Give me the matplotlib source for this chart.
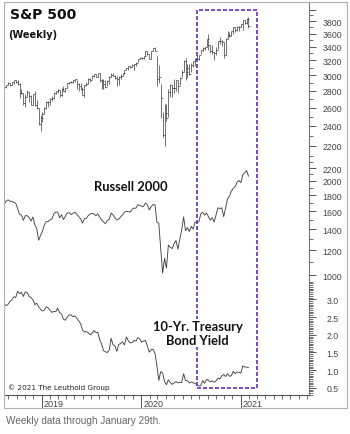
import numpy as np
import pandas as pd
import matplotlib
matplotlib.use('Agg')
import matplotlib.pyplot as plt
import matplotlib.dates as mdates
import matplotlib.transforms as mtransforms
from matplotlib.patches import Rectangle
from matplotlib.ticker import NullFormatter
from datetime import datetime

plt.rcParams['font.family'] = 'DejaVu Sans'

# weekly Friday closes, Aug 17 2018 -> Jan 29 2021
weeks = pd.date_range('2018-08-17', '2021-01-29', freq='W-FRI')

sp_close = [2850.1, 2874.7, 2901.5, 2871.7, 2905.0, 2929.7, 2914.0, 2885.6, 2767.1, 2767.8,
            2658.7, 2723.1, 2781.0, 2736.3, 2632.6, 2760.2, 2633.1, 2600.0, 2416.6, 2485.7,
            2531.9, 2596.3, 2670.7, 2664.8, 2706.5, 2707.9, 2775.6, 2792.7, 2803.7, 2743.1,
            2822.5, 2800.7, 2834.4, 2892.7, 2907.4, 2905.0, 2939.9, 2945.6, 2881.4, 2859.5,
            2826.1, 2752.1, 2873.3, 2887.0, 2950.5, 2941.8, 2990.4, 3013.8, 2976.6, 3025.9,
            2932.1, 2918.7, 2888.7, 2847.1, 2926.5, 2978.7, 3007.4, 2992.1, 2961.8, 2952.0,
            2970.3, 2986.2, 3022.6, 3066.9, 3093.1, 3120.5, 3110.3, 3141.0, 3145.9, 3168.8,
            3221.2, 3240.0,
            3234.9, 3265.4, 3329.6, 3295.5, 3225.5, 3327.7, 3380.2, 3337.8, 2954.2, 2972.4,
            2711.0, 2304.9, 2541.5, 2488.7, 2789.8, 2874.6, 2836.7, 2830.7, 2929.8, 2863.7,
            2955.5, 3044.3, 3193.9, 3041.3, 3097.7, 3009.1, 3130.0, 3185.0, 3224.7, 3215.6,
            3271.1, 3351.3, 3372.9, 3397.2, 3508.0, 3427.0, 3341.0, 3319.5, 3298.5, 3348.4,
            3477.1, 3483.8, 3465.4, 3270.0, 3509.4, 3585.2, 3557.5, 3638.4, 3699.1, 3663.5,
            3709.4, 3703.1, 3756.1,
            3824.7, 3768.3, 3841.5, 3714.2]

sp_high = [2855, 2877, 2916, 2903, 2906, 2940, 2939, 2940, 2894, 2817,
           2778, 2756, 2815, 2782, 2746, 2763, 2800, 2686, 2601, 2520,
           2553, 2604, 2675, 2681, 2716, 2738, 2790, 2795, 2816, 2812,
           2830, 2860, 2836, 2894, 2911, 2918, 2940, 2955, 2931, 2892,
           2892, 2841, 2876, 2911, 2964, 2959, 2996, 3017, 3018, 3028,
           3028, 2945, 2943, 2939, 2940, 2986, 3021, 3022, 3002, 2993,
           2993, 3008, 3027, 3067, 3098, 3123, 3128, 3154, 3148, 3183,
           3226, 3248,
           3247, 3268, 3330, 3338, 3285, 3342, 3385, 3393, 3260, 3137,
           2882, 2553, 2637, 2642, 2818, 2880, 2868, 2955, 2935, 2939,
           2980, 3068, 3212, 3234, 3156, 3155, 3165, 3198, 3233, 3280,
           3272, 3352, 3387, 3399, 3509, 3588, 3425, 3429, 3320, 3397,
           3482, 3550, 3502, 3465, 3529, 3646, 3628, 3644, 3702, 3712,
           3727, 3725, 3760,
           3827, 3823, 3860, 3870]

sp_low = [2802, 2835, 2876, 2864, 2867, 2887, 2903, 2874, 2710, 2756,
          2628, 2604, 2722, 2670, 2631, 2631, 2621, 2584, 2408, 2347,
          2444, 2524, 2580, 2612, 2631, 2682, 2703, 2764, 2775, 2723,
          2734, 2798, 2785, 2840, 2883, 2892, 2898, 2915, 2825, 2801,
          2805, 2750, 2728, 2856, 2884, 2912, 2943, 2969, 2970, 2976,
          2915, 2822, 2825, 2835, 2856, 2891, 2980, 2986, 2946, 2855,
          2875, 2952, 2990, 3010, 3066, 3074, 3089, 3110, 3070, 3124,
          3183, 3219,
          3213, 3214, 3262, 3280, 3214, 3223, 3335, 3328, 2856, 2902,
          2479, 2281, 2192, 2447, 2500, 2729, 2727, 2767, 2798, 2767,
          2866, 2969, 3039, 2936, 2966, 3004, 3036, 3115, 3128, 3200,
          3201, 3285, 3333, 3354, 3396, 3350, 3310, 3292, 3209, 3280,
          3367, 3441, 3415, 3234, 3280, 3512, 3553, 3558, 3594, 3633,
          3648, 3636, 3700,
          3663, 3750, 3758, 3694]

russell = [1688, 1725, 1740, 1722, 1721, 1708, 1697, 1631, 1563, 1555,
           1496, 1547, 1549, 1528, 1488, 1533, 1448, 1411, 1292, 1337,
           1380, 1447, 1482, 1482, 1502, 1511, 1569, 1590, 1590, 1523,
           1560, 1505, 1540, 1581, 1581, 1561, 1575, 1589, 1563, 1536,
           1514, 1466, 1514, 1518, 1550, 1567, 1575, 1570, 1548, 1569,
           1533, 1500, 1479, 1459, 1494, 1506, 1578, 1558, 1523, 1500,
           1510, 1535, 1558, 1589, 1598, 1596, 1590, 1624, 1637, 1636,
           1679, 1669,
           1660, 1657, 1699, 1681, 1615, 1657, 1680, 1678, 1476, 1463,
           1211, 1014, 1131, 1052, 1247, 1226, 1215, 1260, 1290, 1210,
           1303, 1394, 1535, 1387, 1418, 1378, 1431, 1403, 1477, 1471,
           1480, 1568, 1587, 1555, 1578, 1536, 1497, 1526, 1477, 1557,
           1641, 1632, 1640, 1538, 1639, 1755, 1786, 1855, 1892, 1918,
           1980, 2006, 1975,
           2092, 2123, 2159, 2073]

yield10 = [2.87, 2.82, 2.86, 2.94, 2.99, 3.07, 3.05, 3.23, 3.16, 3.20,
           3.08, 3.21, 3.19, 3.08, 3.05, 2.99, 2.85, 2.89, 2.79, 2.72,
           2.67, 2.70, 2.79, 2.76, 2.69, 2.63, 2.66, 2.65, 2.75, 2.63,
           2.59, 2.44, 2.41, 2.50, 2.56, 2.56, 2.51, 2.53, 2.47, 2.39,
           2.32, 2.13, 2.08, 2.09, 2.06, 2.00, 2.04, 2.12, 2.06, 2.07,
           1.86, 1.74, 1.55, 1.52, 1.50, 1.56, 1.90, 1.72, 1.69, 1.53,
           1.73, 1.75, 1.80, 1.71, 1.94, 1.83, 1.77, 1.78, 1.84, 1.82,
           1.92, 1.88,
           1.79, 1.82, 1.84, 1.68, 1.51, 1.58, 1.59, 1.47, 1.13, 0.71,
           0.96, 0.92, 0.68, 0.59, 0.73, 0.65, 0.60, 0.64, 0.68, 0.64,
           0.66, 0.65, 0.90, 0.71, 0.70, 0.64, 0.67, 0.64, 0.63, 0.59,
           0.55, 0.57, 0.71, 0.63, 0.74, 0.72, 0.67, 0.70, 0.66, 0.70,
           0.78, 0.75, 0.84, 0.88, 0.82, 0.90, 0.83, 0.84, 0.97, 0.90,
           0.95, 0.94, 0.92,
           1.12, 1.09, 1.09, 1.07]

sp_ticks = [2200, 2400, 2600, 2800, 3000, 3200, 3400, 3600, 3800, 4000]
sp_labels = ['2200', '2400', '2600', '2800', '3000', '3200', '3400', '3600', '3800', '']
rut_ticks = [1000, 1200, 1400, 1600, 1800, 2000, 2200]
rut_labels = ['1000', '1200', '1400', '1600', '1800', '2000', '2200']
yld_ticks = [0.5, 1.0, 1.5, 2.0, 2.5, 3.0]
yld_labels = ['0.5', '1.0', '1.5', '2.0', '2.5', '3.0']
year_labels = [2019, 2020, 2021]

W, H = 350, 435
fig = plt.figure(figsize=(W / 100, H / 100), dpi=100)
rect = [4 / W, 39 / H, 305 / W, 393 / H]

ax1 = fig.add_axes(rect, label='sp')
ax2 = fig.add_axes(rect, label='rut', sharex=ax1)
ax3 = fig.add_axes(rect, label='tny', sharex=ax1)
for a in (ax2, ax3):
    a.patch.set_visible(False)
    for s in a.spines.values():
        s.set_visible(False)
    a.tick_params(axis='x', which='both', bottom=False, labelbottom=False)

x = mdates.date2num(weeks.to_pydatetime())
ink = '#383838'
ax1.vlines(x, np.array(sp_low, dtype=float), np.array(sp_high, dtype=float), color=ink, lw=0.5)
ax1.plot(x, np.array(sp_close), ls='none', marker=1, ms=1.5, mew=0.5, color=ink)
ax2.plot(x, np.array(russell, dtype=float), color='#444', lw=0.65)
ax3.plot(x, np.array(yield10), color='#444', lw=0.65)

ax1.xaxis_date()
ax1.set_xlim(mdates.date2num(datetime(2018, 8, 16)), mdates.date2num(datetime(2021, 9, 8)))
ax1.set_yscale('log')
ax1.set_ylim(735.6, 4136)
ax2.set_yscale('log')
ax2.set_ylim(413, 7477)
ax3.set_ylim(0.317, 11.39)


def right_scale(ax, ticks, labels, minors):
    ax.yaxis.set_ticks_position('right')
    ax.set_yticks(ticks, labels=labels)
    ax.set_yticks(minors, minor=True)
    ax.yaxis.set_minor_formatter(NullFormatter())
    ax.tick_params(axis='y', which='major', length=4.8, width=0.7, color='#555',
                   pad=12, labelsize=6.3, labelcolor='#444', labelfontfamily='Liberation Sans')
    ax.tick_params(axis='y', which='minor', length=2.6, width=0.6, color='#555')
    for lbl in ax.get_yticklabels():
        lbl.set_horizontalalignment('center')


right_scale(ax1, sp_ticks, sp_labels, np.arange(2100, 4050, 100))
right_scale(ax2, rut_ticks, rut_labels, np.arange(900, 2350, 100))
right_scale(ax3, yld_ticks, yld_labels, np.arange(0.3, 3.52, 0.05))

ax1.spines['left'].set_visible(False)
ax1.spines['top'].set_visible(False)
ax1.spines['right'].set_color('#777')
ax1.spines['right'].set_linewidth(0.8)
ax1.spines['bottom'].set_color('#555')
ax1.spines['bottom'].set_linewidth(0.8)
ax1.xaxis.set_major_locator(mdates.YearLocator())
ax1.xaxis.set_minor_locator(mdates.MonthLocator())
ax1.tick_params(axis='x', which='major', length=9.4, width=0.7, color='#555', labelbottom=False)
ax1.tick_params(axis='x', which='minor', length=2.9, width=0.6, color='#555')

for yr in year_labels:
    ax1.annotate(str(yr), xy=(mdates.date2num(datetime(yr, 1, 1)), 0),
                 xycoords=ax1.get_xaxis_transform(),
                 xytext=(1.5, -6.3), textcoords='offset points', ha='left', va='center',
                 fontsize=6.5, family='Liberation Sans', color='#444')

# dashed highlight box
tr = mtransforms.blended_transform_factory(ax3.transData, ax3.transAxes)
x0 = mdates.date2num(datetime(2020, 7, 24))
x1 = mdates.date2num(datetime(2021, 3, 2))
ax3.add_patch(Rectangle((x0, 0.0178), x1 - x0, 0.9618, transform=tr, fill=False,
                        ec='#6a2db0', lw=1.2, ls=(0, (2.4, 1.2)), zorder=3))

ax3.text(0.0197, 0.9695, 'S&P 500', transform=ax3.transAxes, fontsize=10,
         fontweight='bold', va='center', ha='left', color='#111', zorder=5)
ax3.text(0.0131, 0.9186, '(Weekly)', transform=ax3.transAxes, fontsize=7,
         fontweight='bold', va='center', ha='left', color='#111', zorder=5)
ax3.text(0.4148, 0.5318, 'Russell 2000', transform=ax3.transAxes, fontsize=9.3,
         fontweight='bold', family='Lato', va='center', ha='center', color='#111', zorder=5)
ax3.text(0.6344, 0.1578, '10-Yr. Treasury\nBond Yield', transform=ax3.transAxes,
         fontsize=9.3, fontweight='bold', family='Lato', va='center', ha='center',
         multialignment='center', color='#111', zorder=5,
         bbox=dict(facecolor='white', edgecolor='none', pad=0.5))
ax3.text(0.0131, 0.0204, '\u00a9 2021 The Leuthold Group', transform=ax3.transAxes,
         fontsize=5.2, va='center', ha='left', color='#222', zorder=5)

fig.add_artist(Rectangle((4 / W, (H - 409) / H), 343 / W, 406 / H, transform=fig.transFigure,
                         fill=False, ec='#b0b0b0', lw=0.8))
fig.text(6 / W, 1 - 421.5 / H, 'Weekly data through January 29th.', fontsize=7.2,
         family='Liberation Sans', color='#666', va='center', ha='left')

fig.savefig('out.png', dpi=100)
